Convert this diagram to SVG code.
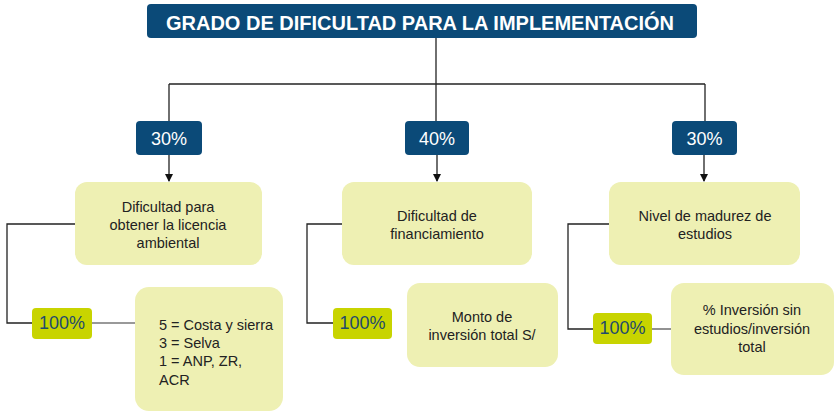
<svg xmlns="http://www.w3.org/2000/svg" width="835" height="412" viewBox="0 0 835 412">
<style>
.title{fill:#0b4a78}
.pct{fill:#0b4a78}
.pt{font-family:"Liberation Sans",Arial,sans-serif;font-size:18px;fill:#fff;text-anchor:middle}
.box{fill:#eef0b3}
.bt{font-family:"Liberation Sans",Arial,sans-serif;font-size:14.5px;fill:#222;text-anchor:middle}
.btl{font-family:"Liberation Sans",Arial,sans-serif;font-size:14.5px;fill:#222}
.lime{fill:#c8d400}
.lt{font-family:"Liberation Sans",Arial,sans-serif;font-size:18px;fill:#1e4a6e;text-anchor:middle}
.ln{fill:none;stroke:#222;stroke-width:1.3}
.lg{fill:none;stroke:#777;stroke-width:1.6}
</style>
<defs>
<marker id="ah" markerWidth="8" markerHeight="8" refX="7" refY="4" orient="auto" markerUnits="userSpaceOnUse">
<path d="M0,0 L8,4 L0,8 Z" fill="#111"/>
</marker>
</defs>
<rect width="835" height="412" fill="#fff"/>
<g id="connectors">
<path class="ln" d="M436,38 V84"/>
<path class="ln" d="M169,84 H705"/>
<path class="ln" d="M169,84 V121"/>
<path class="ln" d="M436,84 V121"/>
<path class="ln" d="M705,84 V121"/>
<path class="ln" d="M169,155 V181" marker-end="url(#ah)"/>
<path class="ln" d="M437,155 V181" marker-end="url(#ah)"/>
<path class="ln" d="M704,155 V181" marker-end="url(#ah)"/>
<path class="ln" d="M75,224 H7 V323 H32"/>
<path class="lg" d="M92,323 H135"/>
<path class="ln" d="M342,224 H307 V323 H333"/>
<path class="ln" d="M609,224 H568 V329 H593"/>
<path class="lg" d="M652,329 H671"/>
</g>
<g id="title">
<rect class="title" x="147" y="4" width="550" height="34" rx="4"/>
<text x="420" y="29.5" font-family="'Liberation Sans',Arial,sans-serif" font-size="20" font-weight="bold" fill="#fff" text-anchor="middle">GRADO DE DIFICULTAD PARA LA IMPLEMENTACIÓN</text>
</g>
<g id="p1">
<rect class="pct" x="136" y="121" width="66" height="34" rx="4"/>
<text class="pt" x="169" y="144.5">30%</text>
</g>
<g id="p2">
<rect class="pct" x="405" y="121" width="64" height="34" rx="4"/>
<text class="pt" x="437" y="144.5">40%</text>
</g>
<g id="p3">
<rect class="pct" x="672" y="121" width="65" height="34" rx="4"/>
<text class="pt" x="704.5" y="144.5">30%</text>
</g>
<g id="b1">
<rect class="box" x="75" y="182" width="187" height="83" rx="12"/>
<text class="bt" x="168" y="212">Dificultad para</text>
<text class="bt" x="168" y="230">obtener la licencia</text>
<text class="bt" x="168" y="247.5">ambiental</text>
</g>
<g id="b2">
<rect class="box" x="342" y="182" width="190" height="83" rx="12"/>
<text class="bt" x="437" y="221">Dificultad de</text>
<text class="bt" x="437" y="238.5">financiamiento</text>
</g>
<g id="b3">
<rect class="box" x="609" y="182" width="191" height="83" rx="12"/>
<text class="bt" x="705" y="221">Nivel de madurez de</text>
<text class="bt" x="705" y="238.5">estudios</text>
</g>
<g id="l1">
<rect class="lime" x="32" y="308" width="60" height="31" rx="4"/>
<text class="lt" x="62" y="328.5">100%</text>
</g>
<g id="l2">
<rect class="lime" x="333" y="308" width="59" height="31" rx="4"/>
<text class="lt" x="362.5" y="328.5">100%</text>
</g>
<g id="l3">
<rect class="lime" x="593" y="313" width="59" height="31" rx="4"/>
<text class="lt" x="622.5" y="334">100%</text>
</g>
<g id="c1">
<rect class="box" x="135" y="287" width="148" height="124" rx="14"/>
<text class="btl" x="159" y="330">5 = Costa y sierra</text>
<text class="btl" x="159" y="348">3 = Selva</text>
<text class="btl" x="159" y="366">1 = ANP, ZR,</text>
<text class="btl" x="159" y="385">ACR</text>
</g>
<g id="c2">
<rect class="box" x="407" y="283" width="151" height="84" rx="13"/>
<text class="bt" x="482" y="322">Monto de</text>
<text class="bt" x="482" y="340">inversión total S/</text>
</g>
<g id="c3">
<rect class="box" x="671" y="283" width="163" height="92" rx="13"/>
<text class="bt" x="752" y="315">% Inversión sin</text>
<text class="bt" x="752" y="333.5">estudios/inversión</text>
<text class="bt" x="752" y="352">total</text>
</g>
</svg>
